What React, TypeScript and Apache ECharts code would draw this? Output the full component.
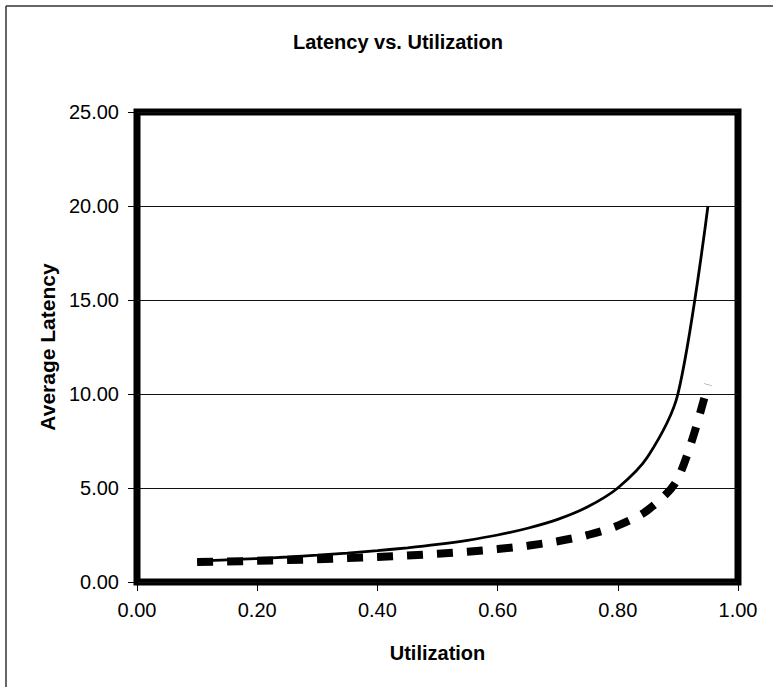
import React, { useEffect, useRef } from "react";
import * as echarts from "echarts";

const utilization = [0.1, 0.15, 0.2, 0.25, 0.3, 0.35, 0.4, 0.45, 0.5, 0.55, 0.6, 0.65, 0.7, 0.75, 0.8, 0.85, 0.9, 0.95];
const latencySolid = [1.11, 1.18, 1.25, 1.33, 1.43, 1.54, 1.67, 1.82, 2.0, 2.22, 2.5, 2.86, 3.33, 4.0, 5.0, 6.67, 10.0, 20.0];
const latencyDashed = [1.06, 1.09, 1.13, 1.17, 1.21, 1.27, 1.33, 1.41, 1.5, 1.61, 1.75, 1.93, 2.17, 2.5, 3.0, 3.83, 5.5, 10.5];

const titleText = "Latency vs. Utilization";
const xAxisTitle = "Utilization";
const yAxisTitle = "Average Latency";

const FONT = "'Liberation Sans', Arial, sans-serif";

export default function App() {
  const ref = useRef<HTMLDivElement>(null);
  useEffect(() => {
    if (!ref.current) return;
    const chart = echarts.init(ref.current, undefined, { renderer: "svg" });
    chart.setOption({
      animation: false,
      backgroundColor: "#ffffff",
      textStyle: { fontFamily: FONT },
      title: {
        text: titleText,
        left: 393,
        top: 27,
        textAlign: "center",
        textStyle: { fontFamily: FONT, fontSize: 20, fontWeight: "bold", color: "#000" },
      },
      graphic: [
        { type: "line", shape: { x1: 6, y1: 6, x2: 773, y2: 6 }, style: { stroke: "#333", lineWidth: 1.5 } },
        { type: "line", shape: { x1: 6, y1: 6, x2: 6, y2: 687 }, style: { stroke: "#333", lineWidth: 1.5 } },
      ],
      grid: {
        left: 137,
        right: 35,
        top: 112,
        bottom: 105,
        show: true,
        borderColor: "#000",
        borderWidth: 7,
        backgroundColor: "transparent",
      },
      xAxis: {
        type: "value",
        min: 0,
        max: 1,
        interval: 0.2,
        name: xAxisTitle,
        nameLocation: "middle",
        nameGap: 61,
        nameTextStyle: { fontFamily: FONT, fontSize: 20, fontWeight: "bold", color: "#000" },
        axisLine: { show: false },
        axisTick: { show: true, length: 9, lineStyle: { color: "#000", width: 1 } },
        axisLabel: {
          margin: 18,
          fontFamily: FONT,
          fontSize: 20,
          color: "#000",
          formatter: (v: number) => v.toFixed(2),
        },
        splitLine: { show: false },
      },
      yAxis: {
        type: "value",
        min: 0,
        max: 25,
        interval: 5,
        name: yAxisTitle,
        nameLocation: "middle",
        nameRotate: 90,
        nameGap: 78,
        nameTextStyle: { fontFamily: FONT, fontSize: 21, fontWeight: "bold", color: "#000" },
        axisLine: { show: false },
        axisTick: { show: true, length: 9, lineStyle: { color: "#000", width: 1 } },
        axisLabel: {
          margin: 18,
          fontFamily: FONT,
          fontSize: 20,
          color: "#000",
          formatter: (v: number) => v.toFixed(2),
        },
        splitLine: { show: true, lineStyle: { color: "#111", width: 1 } },
      },
      series: [
        {
          type: "line",
          name: "Solid",
          data: utilization.map((u, i) => [u, latencySolid[i]]),
          showSymbol: false,
          symbol: "none",
          smooth: 0.3,
          lineStyle: { color: "#000", width: 2.8 },
        },
        {
          type: "line",
          name: "Dashed",
          data: utilization.map((u, i) => [u, latencyDashed[i]]),
          showSymbol: false,
          symbol: "none",
          smooth: 0.3,
          lineStyle: { color: "#000", width: 8, type: [16, 14], cap: "butt" },
        },
      ],
    });
    return () => chart.dispose();
  }, []);
  return (
    <div
      ref={ref}
      style={{ position: "fixed", left: 0, top: 0, width: 773, height: 687, background: "#fff" }}
    />
  );
}
